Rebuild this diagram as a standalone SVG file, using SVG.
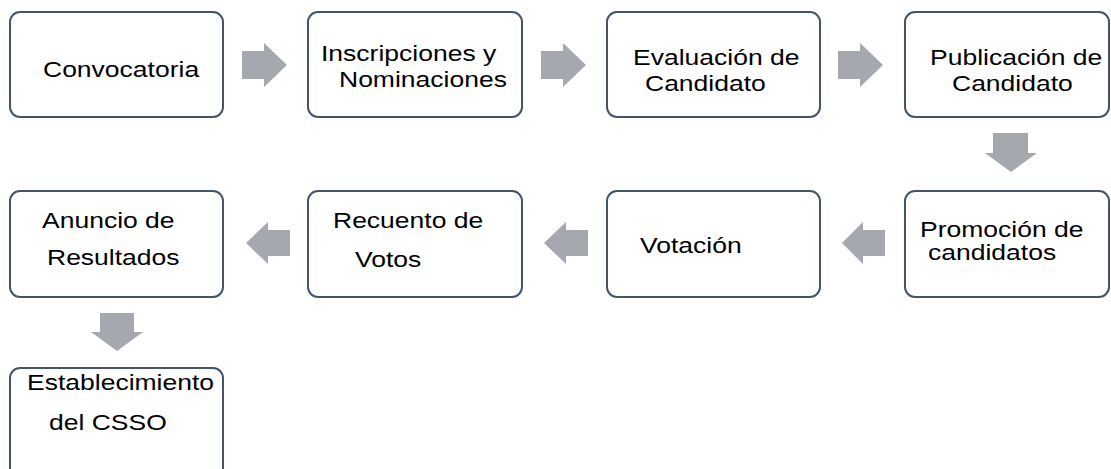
<svg xmlns="http://www.w3.org/2000/svg" width="1111" height="469" viewBox="0 0 1111 469">
<style>
.box{fill:#fff;stroke:#44546a;stroke-width:2}
.t{font-family:"Liberation Sans",Arial,sans-serif;font-size:26.5px;fill:#000}
.arr{fill:#a5a8ae}
</style>
<rect width="1111" height="469" fill="#fff"/>
<g id="connectors">
<path class="arr" d="M242,51 H264 V43 L287,65 L264,87 V79 H242 Z"/>
<path class="arr" d="M541,51 H563 V43 L586,65 L563,87 V79 H541 Z"/>
<path class="arr" d="M838,51 H860 V43 L883,65 L860,87 V79 H838 Z"/>
<path class="arr" d="M993,133 H1028 V153 H1037 L1011,172 L985,153 H993 Z"/>
<path class="arr" d="M885,230 H863 V222 L842,243 L863,264 V256 H885 Z"/>
<path class="arr" d="M588,230 H566 V222 L544,243 L566,264 V256 H588 Z"/>
<path class="arr" d="M290,230 H268 V222 L246,243 L268,264 V256 H290 Z"/>
<path class="arr" d="M100,313 H134 V332 H143 L117,351 L91,332 H100 Z"/>
</g>
<g id="n1"><rect class="box" x="10" y="12" width="213" height="105" rx="10"/>
<text class="t" transform="translate(43 77) scale(1 0.84)">Convocatoria</text></g>
<g id="n2"><rect class="box" x="308" y="12" width="214" height="105" rx="10"/>
<text class="t" transform="translate(321 61) scale(1 0.84)">Inscripciones y</text>
<text class="t" transform="translate(339 87) scale(1 0.84)">Nominaciones</text></g>
<g id="n3"><rect class="box" x="607" y="12" width="213" height="105" rx="10"/>
<text class="t" transform="translate(633 65) scale(1 0.84)">Evaluación de</text>
<text class="t" transform="translate(645 91) scale(1 0.84)">Candidato</text></g>
<g id="n4"><rect class="box" x="905" y="12" width="204" height="105" rx="10"/>
<text class="t" transform="translate(930 65) scale(1 0.84)">Publicación de</text>
<text class="t" transform="translate(952 91) scale(1 0.84)">Candidato</text></g>
<g id="n5"><rect class="box" x="905" y="191" width="204" height="106" rx="10"/>
<text class="t" transform="translate(920 237) scale(1 0.84)">Promoción de</text>
<text class="t" transform="translate(928 260) scale(1 0.84)">candidatos</text></g>
<g id="n6"><rect class="box" x="607" y="191" width="213" height="106" rx="10"/>
<text class="t" transform="translate(640 253) scale(1 0.84)">Votación</text></g>
<g id="n7"><rect class="box" x="308" y="191" width="214" height="106" rx="10"/>
<text class="t" transform="translate(333 228) scale(1 0.84)">Recuento de</text>
<text class="t" transform="translate(355 267) scale(1 0.84)">Votos</text></g>
<g id="n8"><rect class="box" x="10" y="191" width="213" height="106" rx="10"/>
<text class="t" transform="translate(42 228) scale(1 0.84)">Anuncio de</text>
<text class="t" transform="translate(47 265) scale(1 0.84)">Resultados</text></g>
<g id="n9"><rect class="box" x="10" y="368" width="213" height="120" rx="10"/>
<text class="t" transform="translate(27 390) scale(1 0.84)">Establecimiento</text>
<text class="t" transform="translate(49 430) scale(1 0.84)">del CSSO</text></g>
</svg>
